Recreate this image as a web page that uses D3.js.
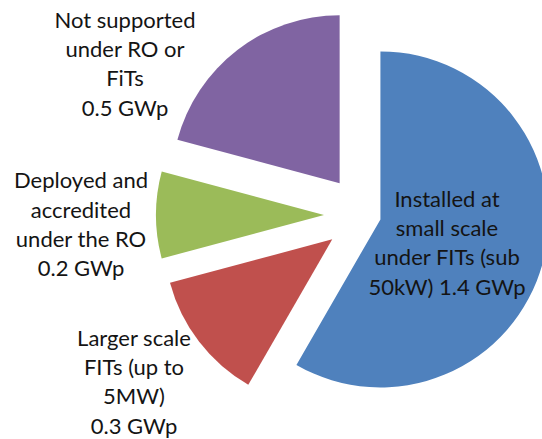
<!DOCTYPE html>
<html>
<head>
<meta charset="utf-8">
<script src="https://cdn.jsdelivr.net/npm/d3@7"></script>
<style>
  html, body { margin: 0; padding: 0; background: #fff; }
  svg { display: block; }
</style>
</head>
<body>
<div id="chart"></div>
<script>
// ---- data ----
const categories = [
  "Installed at small scale under FITs (sub 50kW)",
  "Larger scale FITs (up to 5MW)",
  "Deployed and accredited under the RO",
  "Not supported under RO or FiTs"
];
const values = [1.4, 0.3, 0.2, 0.5];
const unit = "GWp";
const labelLines = [
  ["Installed at", "small scale", "under FITs (sub", "50kW)"],
  ["Larger scale", "FITs (up to", "5MW)"],
  ["Deployed and", "accredited", "under the RO"],
  ["Not supported", "under RO or", "FiTs"]
];
// value appended on its own line (false) or on the last name line (true)
const valueInline = [true, false, false, false];

// ---- style / layout ----
const colors = ["#4F81BD", "#C0504D", "#9BBB59", "#8064A2"];
const explode = [17, 40, 40, 40];
const W = 542, H = 439;
const center = [364, 215];
const radius = 168;
const labelAnchors = [[447, 243], [134, 382], [81, 224.5], [125, 64]];
const lineH = 29.4;
const fontSize = 22;

const svg = d3.select("#chart").append("svg")
  .attr("width", W).attr("height", H);

const pie = d3.pie().sort(null).value(d => d).startAngle(0).endAngle(2 * Math.PI);
const arcs = pie(values);
const arc = d3.arc().innerRadius(0).outerRadius(radius);

const g = svg.append("g").attr("transform", `translate(${center[0]},${center[1]})`);

g.selectAll("path.slice")
  .data(arcs)
  .enter().append("path")
  .attr("class", "slice")
  .attr("d", arc)
  .attr("fill", (d, i) => colors[i])
  .attr("transform", (d, i) => {
    const a = (d.startAngle + d.endAngle) / 2;
    return `translate(${Math.sin(a) * explode[i]},${-Math.cos(a) * explode[i]})`;
  });

const labels = svg.append("g")
  .attr("font-family", "Lato, 'Open Sans', sans-serif")
  .attr("font-size", fontSize)
  .attr("fill", "#141414")
  .attr("text-anchor", "middle");

arcs.forEach((d, i) => {
  const lines = labelLines[i].slice();
  const vt = `${values[i]} ${unit}`;
  if (valueInline[i]) lines[lines.length - 1] = lines[lines.length - 1] + " " + vt;
  else lines.push(vt);
  const [x, y] = labelAnchors[i];
  const n = lines.length;
  const t = labels.append("text").attr("x", x).attr("y", y);
  lines.forEach((ln, k) => {
    t.append("tspan")
      .attr("x", x)
      .attr("y", y + (k - (n - 1) / 2) * lineH)
      .attr("dy", "0.35em")
      .text(ln);
  });
});
</script>
</body>
</html>
